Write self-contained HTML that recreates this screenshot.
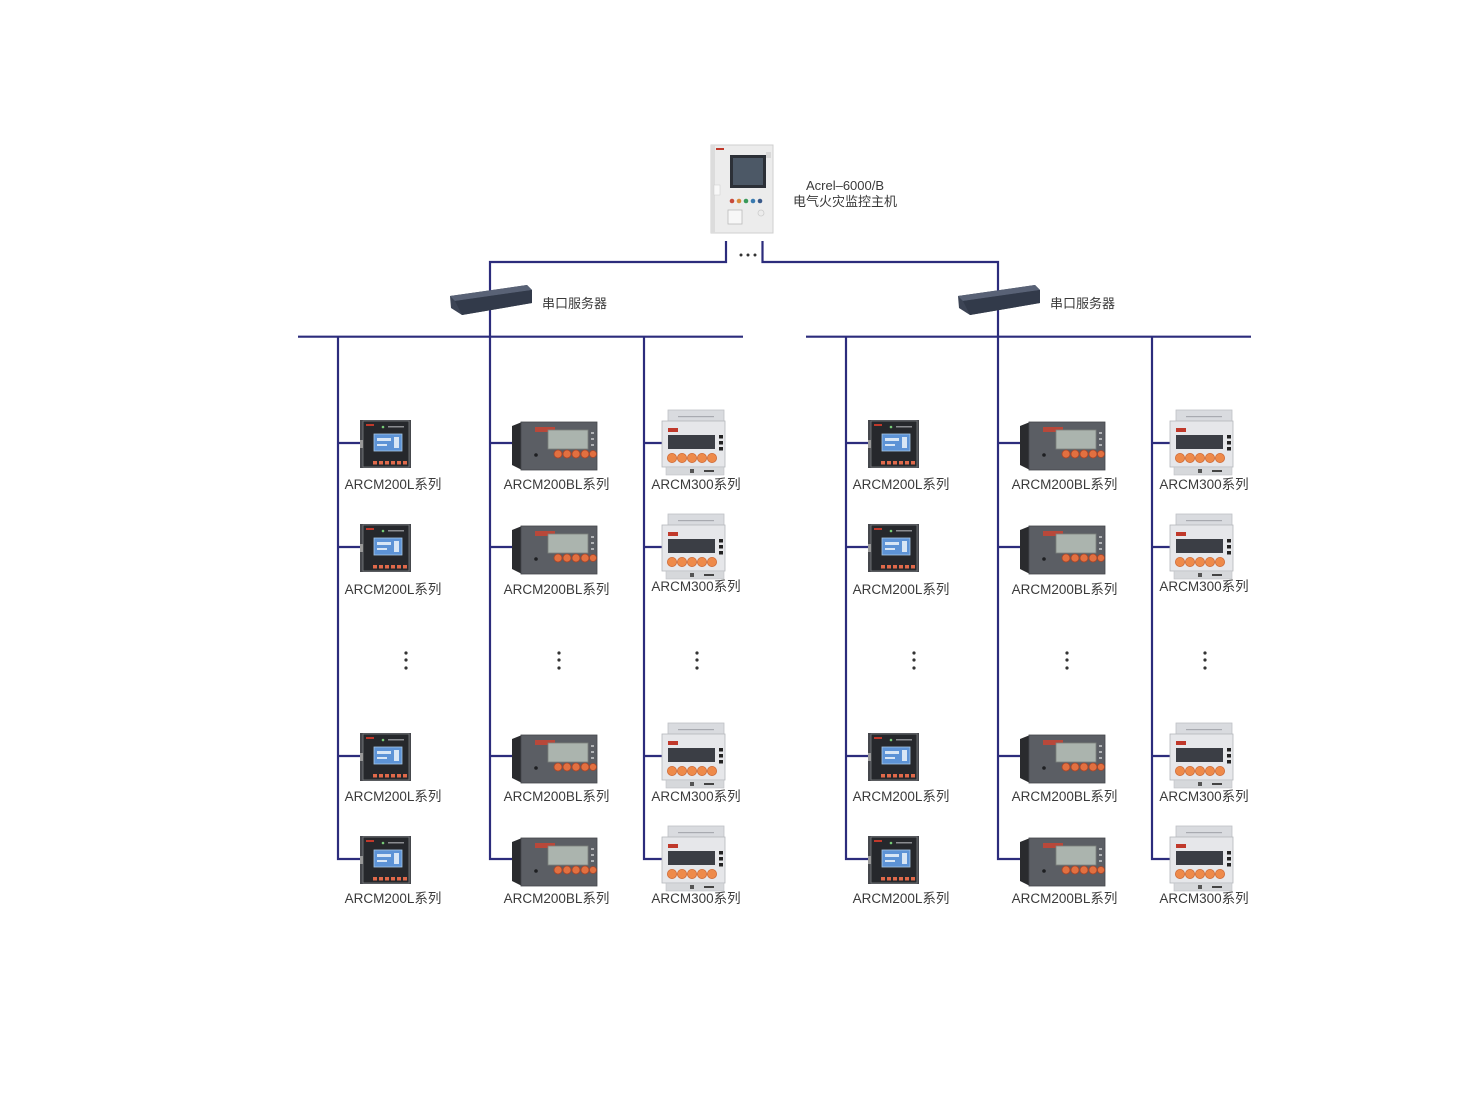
<!DOCTYPE html>
<html><head><meta charset="utf-8"><style>
html,body{margin:0;padding:0;background:#fff;}
svg{display:block;}
text{font-family:"Liberation Sans","Noto Sans CJK SC",sans-serif;fill:#3a3a3a;}
</style></head><body>
<svg width="1483" height="1101" viewBox="0 0 1483 1101" xmlns="http://www.w3.org/2000/svg">
<defs>
<g id="d200l">
  <rect x="22" y="-23" width="51" height="48" fill="#45474c"/>
  <rect x="25" y="-22" width="46" height="46" fill="#26282c" stroke="#7a7c80" stroke-width="0.8"/>
  <rect x="28" y="-19" width="8" height="2" fill="#c0392b"/>
  <circle cx="45" cy="-16" r="1.3" fill="#7c7"/>
  <rect x="50" y="-17" width="16" height="1.5" fill="#8a8c90"/>
  <rect x="36" y="-9" width="28" height="17" fill="#5d93d6" stroke="#a8c8e8" stroke-width="0.8"/>
  <rect x="39" y="-5" width="14" height="3" fill="#d8e6f5"/>
  <rect x="39" y="1" width="10" height="2" fill="#d8e6f5"/>
  <rect x="56" y="-6" width="5" height="11" fill="#d8e6f5"/>
  <rect x="35" y="18" width="4" height="3.5" fill="#e0694a"/>
  <rect x="41" y="18" width="4" height="3.5" fill="#e0694a"/>
  <rect x="47" y="18" width="4" height="3.5" fill="#e0694a"/>
  <rect x="53" y="18" width="4" height="3.5" fill="#e0694a"/>
  <rect x="59" y="18" width="4" height="3.5" fill="#e0694a"/>
  <rect x="65" y="18" width="4" height="3.5" fill="#e0694a"/>
  <rect x="22" y="-3" width="3" height="8" fill="#999"/>
</g>
<g id="d200bl">
  <polygon points="22,-17 32,-21 32,27 22,22" fill="#2a2b2e"/>
  <rect x="31" y="-21" width="76" height="48" fill="#5b5e64" stroke="#45474b" stroke-width="0.8"/>
  <rect x="45" y="-16" width="20" height="5" fill="#b8483a"/>
  <rect x="58" y="-13" width="40" height="19" fill="#abb4ae" stroke="#7c807c" stroke-width="0.8"/>
  <rect x="101" y="-11" width="3" height="2" fill="#b0b2b5"/>
  <rect x="101" y="-5" width="3" height="2" fill="#b0b2b5"/>
  <rect x="101" y="1" width="3" height="2" fill="#b0b2b5"/>
  <circle cx="68" cy="11" r="4" fill="#e27040" stroke="#a8452a" stroke-width="0.8"/>
  <circle cx="77" cy="11" r="4" fill="#e27040" stroke="#a8452a" stroke-width="0.8"/>
  <circle cx="86" cy="11" r="4" fill="#e27040" stroke="#a8452a" stroke-width="0.8"/>
  <circle cx="95" cy="11" r="4" fill="#e27040" stroke="#a8452a" stroke-width="0.8"/>
  <circle cx="103" cy="11" r="3.5" fill="#e27040" stroke="#a8452a" stroke-width="0.8"/>
  <circle cx="46" cy="12" r="1.8" fill="#1e1f22"/>
</g>
<g id="d300">
  <rect x="24" y="-33" width="56" height="12" fill="#d9dbdf" stroke="#bfc1c5" stroke-width="0.8"/>
  <rect x="34" y="-27" width="36" height="1.2" fill="#a8aab0"/>
  <rect x="18" y="-22" width="63" height="46" fill="#e6e7ea" stroke="#b5b7bb" stroke-width="0.8"/>
  <rect x="24" y="-15" width="10" height="4" fill="#c0392b"/>
  <rect x="24" y="-8" width="47" height="14" fill="#3b3e45"/>
  <rect x="75" y="-8" width="4" height="3.5" fill="#222"/>
  <rect x="75" y="-2" width="4" height="3.5" fill="#222"/>
  <rect x="75" y="4" width="4" height="3.5" fill="#222"/>
  <circle cx="28" cy="15" r="4.6" fill="#ee8a4a" stroke="#cf6a36" stroke-width="0.8"/>
  <circle cx="38" cy="15" r="4.6" fill="#ee8a4a" stroke="#cf6a36" stroke-width="0.8"/>
  <circle cx="48" cy="15" r="4.6" fill="#ee8a4a" stroke="#cf6a36" stroke-width="0.8"/>
  <circle cx="58" cy="15" r="4.6" fill="#ee8a4a" stroke="#cf6a36" stroke-width="0.8"/>
  <circle cx="68" cy="15" r="4.6" fill="#ee8a4a" stroke="#cf6a36" stroke-width="0.8"/>
  <rect x="22" y="24" width="58" height="8" fill="#d6d8db" stroke="#bfc1c5" stroke-width="0.6"/>
  <rect x="46" y="26" width="4" height="4" fill="#555"/>
  <rect x="60" y="27" width="10" height="2" fill="#444"/>
</g>
</defs>

<!-- Host -->
<rect x="711" y="145" width="62" height="88" fill="#ececec" stroke="#cfcfcf" stroke-width="1"/>
<rect x="711" y="145" width="4" height="88" fill="#dcdcdc"/>
<rect x="716" y="148" width="8" height="2" fill="#c0392b"/>
<rect x="730" y="155" width="36" height="33" fill="#2c3037"/>
<rect x="733" y="158" width="30" height="27" fill="#4c5866"/>
<rect x="766" y="152" width="5" height="6" fill="#d8d8d8"/>
<rect x="714" y="185" width="6" height="10" fill="#f8f8f8" stroke="#ccc" stroke-width="0.5"/>
<circle cx="732" cy="201" r="2.3" fill="#c84a3a"/>
<circle cx="739" cy="201" r="2.3" fill="#d98a3a"/>
<circle cx="746" cy="201" r="2.3" fill="#3a9a5a"/>
<circle cx="753" cy="201" r="2.3" fill="#3a7ab0"/>
<circle cx="760" cy="201" r="2.3" fill="#3a5a8a"/>
<rect x="728" y="210" width="14" height="14" fill="#f7f7f7" stroke="#bbb" stroke-width="0.8"/>
<circle cx="761" cy="213" r="3" fill="none" stroke="#ccc" stroke-width="0.8"/>
<text x="845" y="190" font-size="13" text-anchor="middle">Acrel–6000/B</text>
<text x="845" y="206" font-size="13" text-anchor="middle">电气火灾监控主机</text>

<!-- top connectors -->
<g stroke="#2c2c7c" stroke-width="2.2" fill="none">
  <polyline points="726,241 726,262 490,262 490,859 512,859"/>
  <polyline points="762.5,241 762.5,262 998,262 998,859 1020,859"/>
  <line x1="298" y1="336.7" x2="743" y2="336.7"/>
  <line x1="806" y1="336.7" x2="1251" y2="336.7"/>
  <polyline points="338,336 338,859 360,859"/>
  <polyline points="644,336 644,859 663,859"/>
  <polyline points="846,336 846,859 868,859"/>
  <polyline points="1152,336 1152,859 1171,859"/>
  <!-- branches -->
  <line x1="338" y1="443" x2="360" y2="443"/><line x1="338" y1="547" x2="360" y2="547"/><line x1="338" y1="756" x2="360" y2="756"/>
  <line x1="490" y1="443" x2="512" y2="443"/><line x1="490" y1="547" x2="512" y2="547"/><line x1="490" y1="756" x2="512" y2="756"/>
  <line x1="644" y1="443" x2="663" y2="443"/><line x1="644" y1="547" x2="663" y2="547"/><line x1="644" y1="756" x2="663" y2="756"/>
  <line x1="846" y1="443" x2="868" y2="443"/><line x1="846" y1="547" x2="868" y2="547"/><line x1="846" y1="756" x2="868" y2="756"/>
  <line x1="998" y1="443" x2="1020" y2="443"/><line x1="998" y1="547" x2="1020" y2="547"/><line x1="998" y1="756" x2="1020" y2="756"/>
  <line x1="1152" y1="443" x2="1171" y2="443"/><line x1="1152" y1="547" x2="1171" y2="547"/><line x1="1152" y1="756" x2="1171" y2="756"/>
</g>
<g fill="#333">
  <circle cx="741" cy="255" r="1.5"/><circle cx="748" cy="255" r="1.5"/><circle cx="755" cy="255" r="1.5"/>
</g>

<!-- switches -->
<g>
  <polygon points="450,296 527,285 532,290 532,303 462,315 451,308" fill="#3c4455"/>
  <polygon points="450,296 527,285 532,290 455,301" fill="#596276"/>
  <polygon points="455,301 532,290 532,303 462,315" fill="#323a4a"/>
  <text x="542" y="308" font-size="13">串口服务器</text>
</g>
<g>
  <polygon points="958,296 1035,285 1040,290 1040,303 970,315 959,308" fill="#3c4455"/>
  <polygon points="958,296 1035,285 1040,290 963,301" fill="#596276"/>
  <polygon points="963,301 1040,290 1040,303 970,315" fill="#323a4a"/>
  <text x="1050" y="308" font-size="13">串口服务器</text>
</g>

<!-- devices -->
<use href="#d200l" transform="translate(338,443)"/>
<use href="#d200l" transform="translate(338,547)"/>
<use href="#d200l" transform="translate(338,756)"/>
<use href="#d200l" transform="translate(338,859)"/>
<use href="#d200bl" transform="translate(490,443)"/>
<use href="#d200bl" transform="translate(490,547)"/>
<use href="#d200bl" transform="translate(490,756)"/>
<use href="#d200bl" transform="translate(490,859)"/>
<use href="#d300" transform="translate(644,443)"/>
<use href="#d300" transform="translate(644,547)"/>
<use href="#d300" transform="translate(644,756)"/>
<use href="#d300" transform="translate(644,859)"/>
<use href="#d200l" transform="translate(846,443)"/>
<use href="#d200l" transform="translate(846,547)"/>
<use href="#d200l" transform="translate(846,756)"/>
<use href="#d200l" transform="translate(846,859)"/>
<use href="#d200bl" transform="translate(998,443)"/>
<use href="#d200bl" transform="translate(998,547)"/>
<use href="#d200bl" transform="translate(998,756)"/>
<use href="#d200bl" transform="translate(998,859)"/>
<use href="#d300" transform="translate(1152,443)"/>
<use href="#d300" transform="translate(1152,547)"/>
<use href="#d300" transform="translate(1152,756)"/>
<use href="#d300" transform="translate(1152,859)"/>

<!-- vertical dots -->
<g fill="#333">
  <circle cx="406" cy="653" r="1.6"/><circle cx="406" cy="660" r="1.6"/><circle cx="406" cy="668" r="1.6"/>
  <circle cx="559" cy="653" r="1.6"/><circle cx="559" cy="660" r="1.6"/><circle cx="559" cy="668" r="1.6"/>
  <circle cx="697" cy="653" r="1.6"/><circle cx="697" cy="660" r="1.6"/><circle cx="697" cy="668" r="1.6"/>
  <circle cx="914" cy="653" r="1.6"/><circle cx="914" cy="660" r="1.6"/><circle cx="914" cy="668" r="1.6"/>
  <circle cx="1067" cy="653" r="1.6"/><circle cx="1067" cy="660" r="1.6"/><circle cx="1067" cy="668" r="1.6"/>
  <circle cx="1205" cy="653" r="1.6"/><circle cx="1205" cy="660" r="1.6"/><circle cx="1205" cy="668" r="1.6"/>
</g>

<!-- labels -->
<g font-size="13.5" text-anchor="middle">
  <text x="393" y="489">ARCM200L系列</text>
  <text x="393" y="594">ARCM200L系列</text>
  <text x="393" y="801">ARCM200L系列</text>
  <text x="393" y="903">ARCM200L系列</text>
  <text x="556.5" y="489">ARCM200BL系列</text>
  <text x="556.5" y="594">ARCM200BL系列</text>
  <text x="556.5" y="801">ARCM200BL系列</text>
  <text x="556.5" y="903">ARCM200BL系列</text>
  <text x="696" y="489">ARCM300系列</text>
  <text x="696" y="591">ARCM300系列</text>
  <text x="696" y="801">ARCM300系列</text>
  <text x="696" y="903">ARCM300系列</text>
  <text x="901" y="489">ARCM200L系列</text>
  <text x="901" y="594">ARCM200L系列</text>
  <text x="901" y="801">ARCM200L系列</text>
  <text x="901" y="903">ARCM200L系列</text>
  <text x="1064.5" y="489">ARCM200BL系列</text>
  <text x="1064.5" y="594">ARCM200BL系列</text>
  <text x="1064.5" y="801">ARCM200BL系列</text>
  <text x="1064.5" y="903">ARCM200BL系列</text>
  <text x="1204" y="489">ARCM300系列</text>
  <text x="1204" y="591">ARCM300系列</text>
  <text x="1204" y="801">ARCM300系列</text>
  <text x="1204" y="903">ARCM300系列</text>
</g>
</svg>
</body></html>
